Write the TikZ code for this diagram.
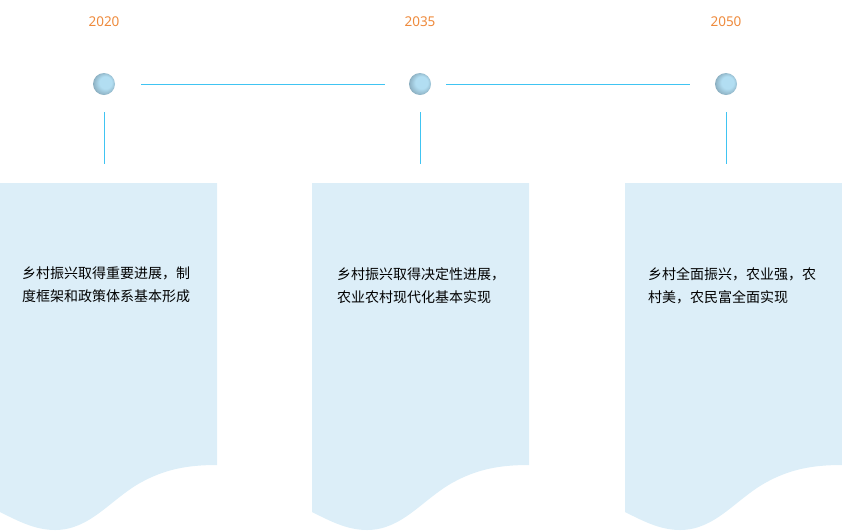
\documentclass[tikz,border=0pt]{standalone}
\usepackage{fontspec}
\setmainfont{Noto Sans}
\newfontfamily\cjk{Noto Sans CJK SC}
\definecolor{panelblue}{HTML}{DCEEF8}
\definecolor{linecyan}{HTML}{40C4F2}
\definecolor{yearorange}{HTML}{EE8A3C}
\definecolor{dotlight}{HTML}{B2DEF2}
\definecolor{dotdark}{HTML}{6F8C9C}
\pgfdeclareradialshading{sphere}{\pgfpoint{6bp}{6bp}}{color(0bp)=(dotlight);
  color(14bp)=(dotlight); color(24bp)=(dotdark!45!dotlight); color(34bp)=(dotdark)}

\begin{document}
\begin{tikzpicture}[x=1pt,y=-1pt,
  dot/.style={circle,inner sep=0pt,minimum size=22pt,shading=sphere},
  year/.style={text=yearorange,font=\fontsize{13.5}{15}\selectfont},
  stem/.style={draw=linecyan,line width=0.8pt},
  txt/.style={anchor=north west,align=left,inner sep=0pt,font=\cjk\fontsize{14}{23}\selectfont}]
  \useasboundingbox (0,0) rectangle (842,531);
  % three panels with the wave at the bottom
  \foreach \x in {0,312,625}
    \fill[panelblue] (\x,183) -- (\x+217,183) -- (\x+217,465)
      .. controls (\x+188,465) and (\x+165,469) .. (\x+140,483)
      .. controls (\x+110,500) and (\x+90,530) .. (\x+55,530)
      .. controls (\x+35,530) and (\x+18,521) .. (\x,512) -- cycle;
  \path (104,22) node[year] (y1) {2020} (420,22) node[year] (y2) {2035}
  (726,22) node[year] (y3) {2050};
  \path (104,84) node[dot] (d1) {} (420,84) node[dot] (d2) {} (726,84) node[dot] (d3) {};
  \path (104,164) coordinate (c1) (420,164) coordinate (c2) (726,164) coordinate (c3);
  \draw[stem,shorten <=26pt,shorten >=24pt] (d1) -- (d2);
  \draw[stem,shorten <=15pt,shorten >=25pt] (d2) -- (d3);
  \foreach \i in {1,2,3}
    \draw[stem,shorten <=17pt] (d\i) -- (c\i);
  \node[txt] (t1) at (22,267) {乡村振兴取得重要进展，制\\度框架和政策体系基本形成};
  \node[txt] (t2) at (337,267) {乡村振兴取得决定性进展，\\农业农村现代化基本实现};
  \node[txt] (t3) at (648,267) {乡村全面振兴，农业强，农\\村美，农民富全面实现};
\end{tikzpicture}
\end{document}
